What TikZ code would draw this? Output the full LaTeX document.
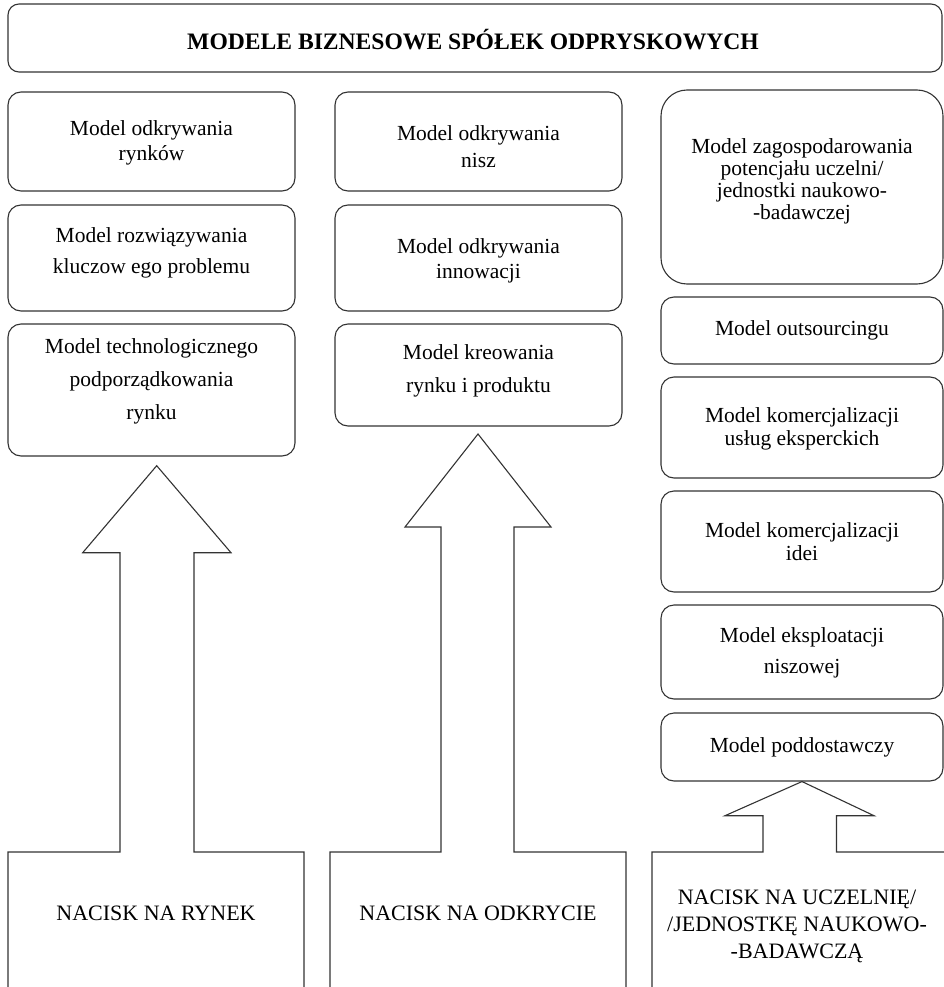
\documentclass[tikz,border=0pt]{standalone}
\usepackage{fontspec}
\setmainfont{Liberation Serif}
\begin{document}
\begin{tikzpicture}[x=1pt,y=-1pt,
  box/.style={draw=black!80, line width=1.1pt, rounded corners=13pt, inner sep=0pt},
  txt/.style={align=center, font=\fontsize{21.5}{#1}\selectfont, inner sep=0pt},
  txt/.default=25,
  big/.style={align=center, font=\fontsize{22}{#1}\selectfont, inner sep=0pt},
  big/.default=27,
  outl/.style={draw=black!80, line width=1.1pt, line join=miter}]
\useasboundingbox (0,0) rectangle (944,987);
\clip (0,0) rectangle (944,987);
% title
\node[box, rounded corners=11pt, minimum width=934pt, minimum height=68pt] (title) at (475,38) {};
\node[inner sep=0pt, font=\fontsize{23.6}{28}\selectfont\bfseries] (titlet) at (473,40) {MODELE BIZNESOWE SPÓŁEK ODPRYSKOWYCH};
% column 1
\node[box, minimum width=287pt, minimum height=99pt] (c1a) at (151.5,141.5) {};
\node[txt=25] (c1at) at (151.5,142.5) {Model odkrywania\\rynków};
\node[box, minimum width=287pt, minimum height=106pt] (c1b) at (151.5,258) {};
\node[txt=31] (c1bt) at (151.5,253) {Model rozwiązywania\\kluczow ego problemu};
\node[box, minimum width=287pt, minimum height=132pt] (c1c) at (151.5,390) {};
\node[txt=33] (c1ct) at (151.5,381) {Model technologicznego\\podporządkowania\\rynku};
% column 2
\node[box, minimum width=287pt, minimum height=99pt] (c2a) at (478.5,141.5) {};
\node[txt=27] (c2at) at (478.5,146.5) {Model odkrywania\\nisz};
\node[box, minimum width=287pt, minimum height=106pt] (c2b) at (478.5,258) {};
\node[txt=25] (c2bt) at (478.5,261) {Model odkrywania\\innowacji};
\node[box, minimum width=287pt, minimum height=102pt] (c2c) at (478.5,375) {};
\node[txt=33] (c2ct) at (478.5,371) {Model kreowania\\rynku i produktu};
% column 3
\node[box, rounded corners=26pt, minimum width=282pt, minimum height=194pt] (c3a) at (802,187) {};
\node[txt=22] (c3at) at (802,181) {Model zagospodarowania\\potencjału uczelni/\\jednostki naukowo-\\-badawczej};
\node[box, minimum width=282pt, minimum height=67pt] (c3b) at (802,330.5) {};
\node[txt] (c3bt) at (802,330.5) {Model outsourcingu};
\node[box, minimum width=282pt, minimum height=101pt] (c3c) at (802,427.5) {};
\node[txt=23] (c3ct) at (802,428.5) {Model komercjalizacji\\usług eksperckich};
\node[box, minimum width=282pt, minimum height=101pt] (c3d) at (802,541.5) {};
\node[txt=23] (c3dt) at (802,541.5) {Model komercjalizacji\\idei};
\node[box, minimum width=282pt, minimum height=94pt] (c3e) at (802,652) {};
\node[txt=31] (c3et) at (802,652.5) {Model eksploatacji\\niszowej};
\node[box, minimum width=282pt, minimum height=68pt] (c3f) at (802,747) {};
\node[txt] (c3ft) at (802,747) {Model poddostawczy};
% bottom boxes merged with block arrows
\draw[outl] (8,995) -- (8,852) -- (120,852) -- (120,552.7) -- (82.7,552.7)
  -- (156.7,465.7) -- (231,552.7) -- (194,552.7) -- (194,852) -- (304,852) -- (304,995);
\draw[outl] (330,995) -- (330,852) -- (441,852) -- (441,527) -- (405,527)
  -- (478,434) -- (551,527) -- (514,527) -- (514,852) -- (626,852) -- (626,995);
\draw[outl] (652,995) -- (652,852) -- (763,852) -- (763,815.7) -- (725,815.7)
  -- (c3f.south) -- (874,815.7) -- (836.5,815.7) -- (836.5,852) -- (950,852);
\node[big] (p1) at (156,913) {NACISK NA RYNEK};
\node[big] (p2) at (478,913) {NACISK NA ODKRYCIE};
\node[big=27] (p3) at (797,926) {NACISK NA UCZELNIĘ/\\/JEDNOSTKĘ NAUKOWO-\\-BADAWCZĄ};
\end{tikzpicture}
\end{document}
